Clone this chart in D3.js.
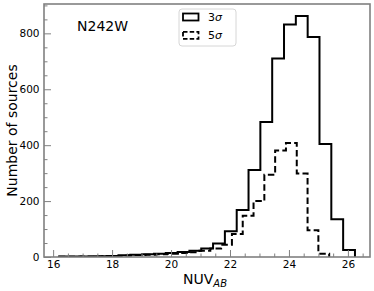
<!DOCTYPE html>
<html>
<head>
  <meta charset="UTF-8">
  <style>
    body { margin: 0; background: #fff; }
    svg { display: block; font-family: "DejaVu Sans", sans-serif; }
  </style>
</head>
<body>
  <svg id="chart"></svg>
  <script src="https://d3js.org/d3.v7.min.js"></script>
  <script>
    // histogram data (step histograms, 25 bins each)
    let bins3Min = 16.21, bins3Max = 26.24;
    let counts3 = [2, 2, 2, 3, 4, 6, 8, 10, 12, 14, 18, 22, 30, 48, 92,
                   168, 311, 483, 710, 832, 862, 787, 404, 135, 25];
    let bins5Min = 16.20, bins5Max = 25.365;
    let counts5 = [1, 1, 2, 2, 3, 4, 5, 7, 8, 10, 12, 14, 17, 22, 30,
                   44, 82, 148, 200, 294, 381, 408, 299, 96, 12];

    let xTicks = [16, 18, 20, 22, 24, 26];
    let yTicks = [0, 200, 400, 600, 800];
    let legendLabels = ["3", "5"];

    let width = 374, height = 291;
    let pLeft = 44, pRight = 370, pTop = 4, pBottom = 257;

    let svg = d3.select("#chart")
      .attr("width", width)
      .attr("height", height);

    let x = d3.scaleLinear().domain([15.69, 26.75]).range([pLeft, pRight]);
    let y = d3.scaleLinear().domain([0, 905]).range([pBottom, pTop]);

    // turn counts into the outline of a step histogram
    function stepPoints(lo, hi, counts) {
      let w = (hi - lo) / counts.length;
      let pts = [[lo, 0]];
      counts.forEach((c, i) => {
        pts.push([lo + i * w, c]);
        pts.push([lo + (i + 1) * w, c]);
      });
      pts.push([hi, 0]);
      return pts;
    }

    let line = d3.line().x(d => x(d[0])).y(d => y(d[1]));

    svg.append("defs").append("clipPath").attr("id", "clip")
      .append("rect")
      .attr("x", pLeft).attr("y", pTop)
      .attr("width", pRight - pLeft).attr("height", pBottom - pTop);

    let plot = svg.append("g").attr("clip-path", "url(#clip)");

    plot.append("path")
      .attr("d", line(stepPoints(bins3Min, bins3Max, counts3)))
      .attr("fill", "none")
      .attr("stroke", "#000")
      .attr("stroke-width", 2)
      .attr("stroke-linejoin", "miter");

    plot.append("path")
      .attr("d", line(stepPoints(bins5Min, bins5Max, counts5)))
      .attr("fill", "none")
      .attr("stroke", "#000")
      .attr("stroke-width", 2)
      .attr("stroke-dasharray", "6.5,3.2");

    // axes, ticks pointing inwards
    let xMinor = d3.range(16, 26.75, 0.5).filter(v => v % 2 !== 0);
    let yMinor = d3.range(0, 905, 50).filter(v => v % 200 !== 0);

    let gx = svg.append("g").attr("transform", "translate(0," + pBottom + ")");
    gx.call(d3.axisBottom(x).tickValues(xTicks).tickFormat(d3.format("d"))
      .tickSizeInner(-7).tickSizeOuter(0).tickPadding(4));
    gx.append("g").call(d3.axisBottom(x).tickValues(xMinor).tickFormat("")
      .tickSizeInner(-3.5).tickSizeOuter(0));

    let gy = svg.append("g").attr("transform", "translate(" + pLeft + ",0)");
    gy.call(d3.axisLeft(y).tickValues(yTicks).tickFormat(d3.format("d"))
      .tickSizeInner(-7).tickSizeOuter(0).tickPadding(4.5));
    gy.append("g").call(d3.axisLeft(y).tickValues(yMinor).tickFormat("")
      .tickSizeInner(-3.5).tickSizeOuter(0));

    svg.selectAll(".domain").remove();
    svg.selectAll(".tick line").attr("stroke", "#808080").attr("stroke-width", 1);
    svg.selectAll(".tick text")
      .attr("fill", "#000")
      .style("font-size", "10.5px")
      .style("font-family", "DejaVu Sans");

    // frame
    svg.append("rect")
      .attr("x", pLeft).attr("y", pTop)
      .attr("width", pRight - pLeft).attr("height", pBottom - pTop)
      .attr("fill", "none")
      .attr("stroke", "#808080")
      .attr("stroke-width", 1.6);

    // axis labels
    let xl = svg.append("text")
      .attr("x", (pLeft + pRight) / 2 - 2)
      .attr("y", 283.5)
      .attr("text-anchor", "middle")
      .style("font-size", "14px");
    xl.append("tspan").text("NUV");
    xl.append("tspan").attr("dy", 3).style("font-size", "10px")
      .style("font-style", "italic").text("AB");

    svg.append("text")
      .attr("transform", "translate(17," + (pTop + pBottom) / 2 + ") rotate(-90)")
      .attr("text-anchor", "middle")
      .style("font-size", "14px")
      .text("Number of sources");

    svg.append("text")
      .attr("x", 77).attr("y", 31)
      .style("font-size", "14px")
      .text("N242W");

    // legend
    let lg = svg.append("g");
    lg.append("rect")
      .attr("x", 179).attr("y", 9)
      .attr("width", 57).attr("height", 37)
      .attr("rx", 3)
      .attr("fill", "#fff").attr("fill-opacity", 0.8)
      .attr("stroke", "#d6d6d6").attr("stroke-width", 1);

    legendLabels.forEach((lab, i) => {
      let yy = 13.5 + i * 18.3;
      lg.append("rect")
        .attr("x", 183).attr("y", yy)
        .attr("width", 15.5).attr("height", 7)
        .attr("fill", "none").attr("stroke", "#000").attr("stroke-width", 1.8)
        .attr("stroke-dasharray", i === 1 ? "4.5,2.2" : null);
      let t = lg.append("text")
        .attr("x", 208).attr("y", yy + 7.5)
        .style("font-size", "11px");
      t.append("tspan").text(lab);
      t.append("tspan").style("font-style", "italic").text("\u03c3");
    });
  </script>
</body>
</html>
